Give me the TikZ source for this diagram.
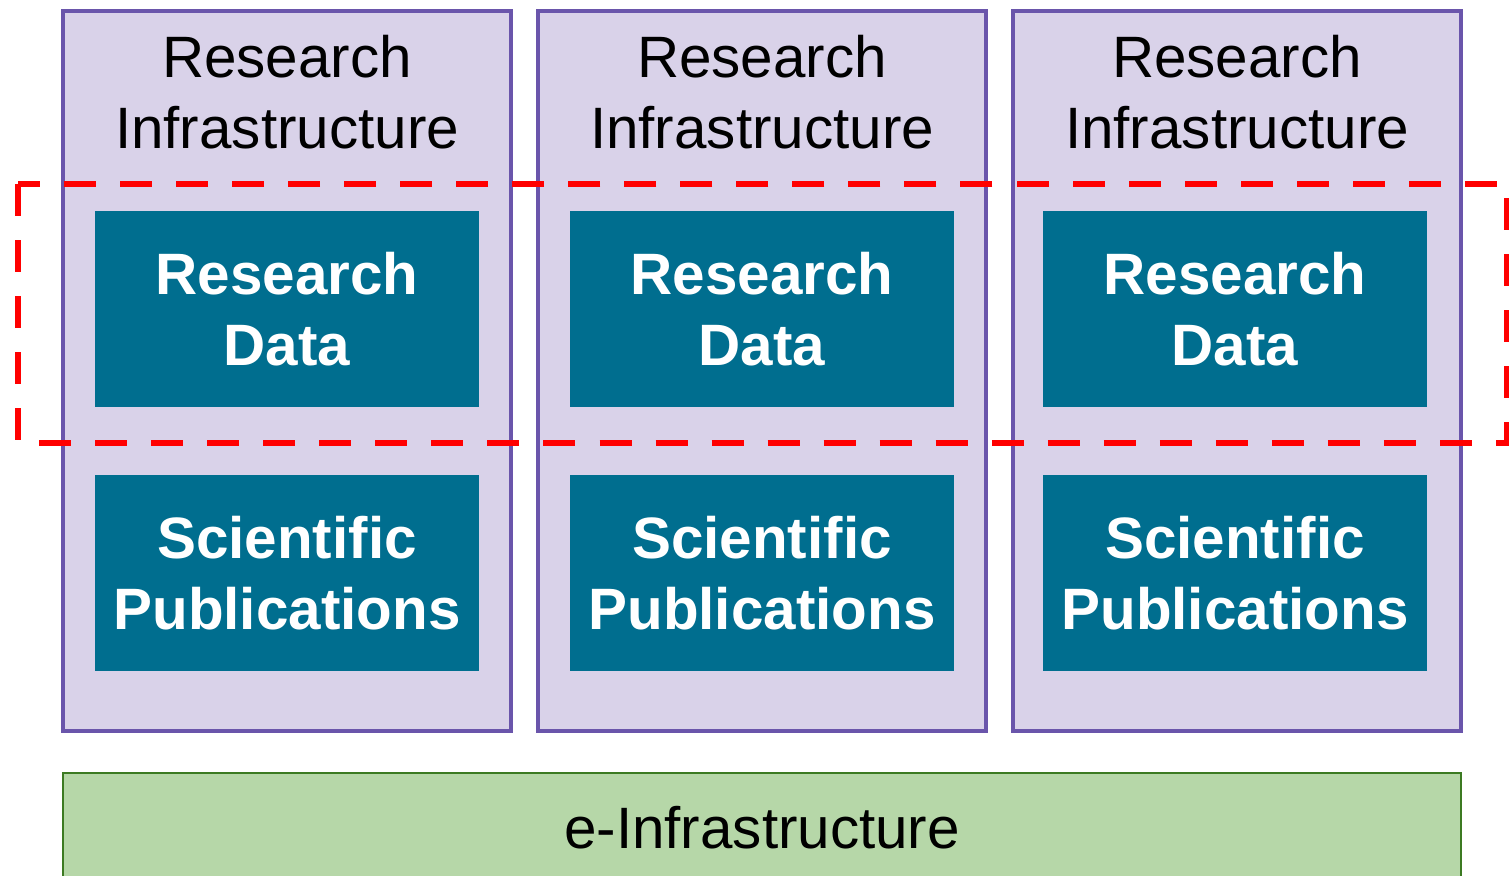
\documentclass[tikz,border=0pt]{standalone}
\usepackage{fontspec}
\setmainfont{Liberation Sans}

\definecolor{riFill}{HTML}{D9D2E9}
\definecolor{riDraw}{HTML}{6A55AB}
\definecolor{boxTeal}{HTML}{006E8F}
\definecolor{eFill}{HTML}{B6D7A8}
\definecolor{eDraw}{HTML}{3C7A22}

\tikzset{
  infra/.style={draw=riDraw,fill=riFill,line width=1pt,
    minimum width=4.48cm,minimum height=7.2cm,inner sep=0pt},
  ricap/.style={font=\fontsize{16.6}{20.1}\selectfont,align=center,inner sep=0pt},
  databox/.style={fill=boxTeal,text=white,
    font=\fontsize{16.6}{20.1}\selectfont\bfseries,align=center,
    minimum width=3.84cm,minimum height=1.96cm,inner sep=0pt},
  einfra/.style={draw=eDraw,fill=eFill,line width=0.6pt,
    font=\fontsize{16.6}{20.1}\selectfont,
    minimum width=13.98cm,minimum height=1.1cm,inner sep=0pt},
  datascope/.style={draw=red,line width=1.8pt,dash pattern=on 0.32cm off 0.24cm}
}

\begin{document}
\begin{tikzpicture}[x=0.01cm,y=-0.01cm]
  \useasboundingbox (0,0) rectangle (1509,876);

  % three research infrastructures
  \foreach \cx/\tx [count=\i] in {287/287,762/762,1237/1235} {
    \node[infra] (ri\i) at (\cx,371) {};
    \node[ricap] (title\i) at (\cx,92) {Research\\Infrastructure};
    \node[databox] (data\i) at (\tx,309) {Research\\Data};
    \node[databox] (pub\i) at (\tx,573) {Scientific\\Publications};
  }

  \node[einfra] (einfra) at (762,828) {e-Infrastructure};

  % research data across all of them
  \draw[datascope] (18,184) rectangle (1507,443);

\end{tikzpicture}
\end{document}
